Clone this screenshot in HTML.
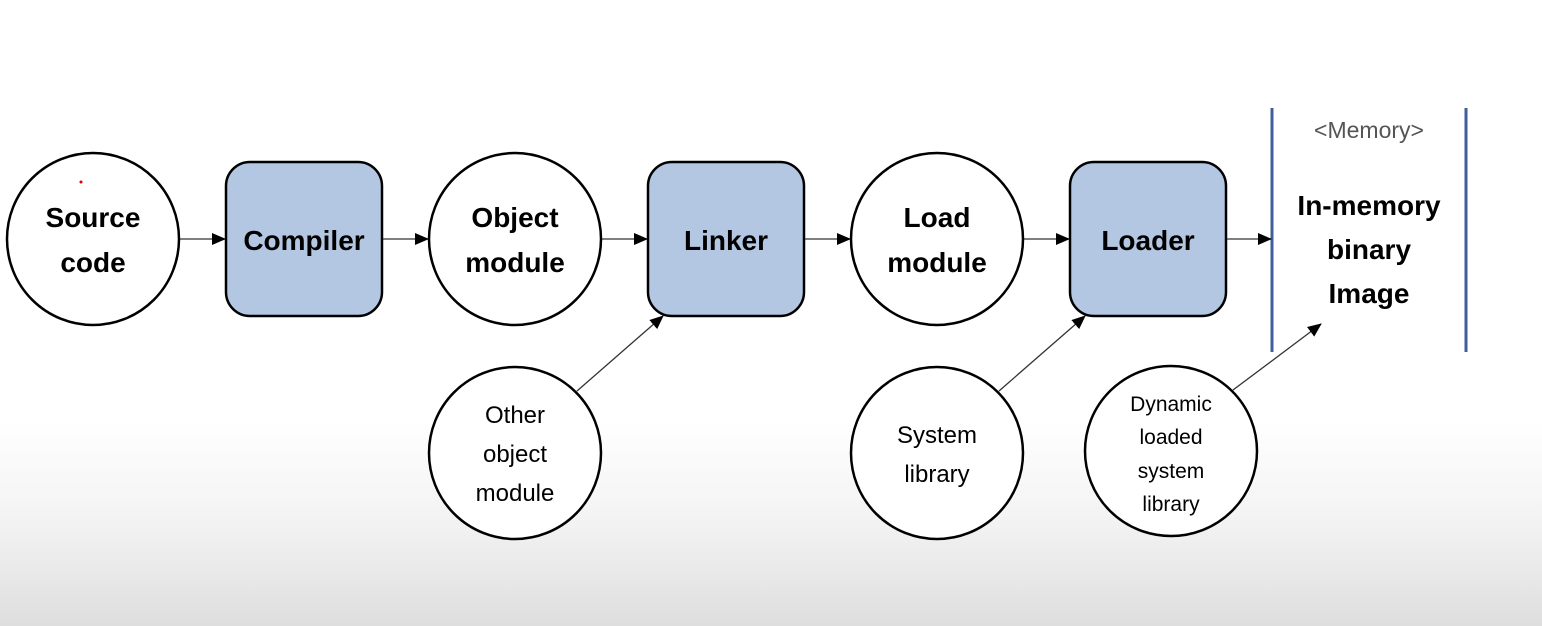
<!DOCTYPE html>
<html><head><meta charset="utf-8"><style>
html,body{margin:0;padding:0;width:1542px;height:626px;overflow:hidden}
body{background:linear-gradient(to bottom,#fff 0,#fff 420px,#f3f3f3 520px,#dedede 626px)}
svg{position:absolute;left:0;top:0}
text{font-family:"Liberation Sans",sans-serif;text-anchor:middle;fill:#000}
.b{font-weight:bold;font-size:28px}
.s{font-size:24px}
</style></head><body>
<svg width="1542" height="626" viewBox="0 0 1542 626">
<defs>
<marker id="a2" markerWidth="14" markerHeight="14" refX="13" refY="6" orient="auto" markerUnits="userSpaceOnUse"><path d="M0,0 L14,6 L0,12 z" fill="#000"/></marker></defs>
<g fill="#fff" stroke="#000" stroke-width="2.5">
<ellipse cx="93" cy="239" rx="86" ry="86"/>
<ellipse cx="515" cy="239" rx="86" ry="86"/>
<ellipse cx="937" cy="239" rx="86" ry="86"/>
<ellipse cx="515" cy="453" rx="86" ry="86"/>
<ellipse cx="937" cy="453" rx="86" ry="86"/>
<ellipse cx="1171" cy="451" rx="86" ry="85"/>
</g>
<g fill="#b4c7e2" stroke="#000" stroke-width="2.5">
<rect x="226" y="162" width="156" height="154" rx="24"/>
<rect x="648" y="162" width="156" height="154" rx="24"/>
<rect x="1070" y="162" width="156" height="154" rx="24"/>
</g>
<g stroke="#3f5f9a" stroke-width="3"><line x1="1272" y1="108" x2="1272" y2="352"/><line x1="1466" y1="108" x2="1466" y2="352"/></g>
<g stroke="#333" stroke-width="1.3" fill="none">
<line x1="180" y1="239" x2="225" y2="239" marker-end="url(#a2)"/>
<line x1="383" y1="239" x2="428" y2="239" marker-end="url(#a2)"/>
<line x1="602" y1="239" x2="647" y2="239" marker-end="url(#a2)"/>
<line x1="805" y1="239" x2="850" y2="239" marker-end="url(#a2)"/>
<line x1="1024" y1="239" x2="1069" y2="239" marker-end="url(#a2)"/>
<line x1="1227" y1="239" x2="1271" y2="239" marker-end="url(#a2)"/>
<line x1="577" y1="391" x2="663" y2="316" marker-end="url(#a2)"/>
<line x1="999" y1="391" x2="1085" y2="316" marker-end="url(#a2)"/>
<line x1="1233" y1="390" x2="1321" y2="324" marker-end="url(#a2)"/>
</g>
<circle cx="81" cy="182" r="1.5" fill="#d00"/>
<text class="b" x="93" y="227">Source</text><text class="b" x="93" y="272">code</text>
<text class="b" x="304" y="250">Compiler</text>
<text class="b" x="515" y="227">Object</text><text class="b" x="515" y="272">module</text>
<text class="b" x="726" y="250">Linker</text>
<text class="b" x="937" y="227">Load</text><text class="b" x="937" y="272">module</text>
<text class="b" x="1148" y="250">Loader</text>
<text x="1369" y="138" style="font-size:23px;fill:#555">&lt;Memory&gt;</text>
<text class="b" x="1369" y="215">In-memory</text><text class="b" x="1369" y="259">binary</text><text class="b" x="1369" y="303">Image</text>
<text class="s" x="515" y="423">Other</text><text class="s" x="515" y="462">object</text><text class="s" x="515" y="501">module</text>
<text class="s" x="937" y="443">System</text><text class="s" x="937" y="482">library</text>
<text x="1171" y="411" style="font-size:21px">Dynamic</text><text x="1171" y="444" style="font-size:21px">loaded</text><text x="1171" y="478" style="font-size:21px">system</text><text x="1171" y="511" style="font-size:21px">library</text>
</svg>
</body></html>
